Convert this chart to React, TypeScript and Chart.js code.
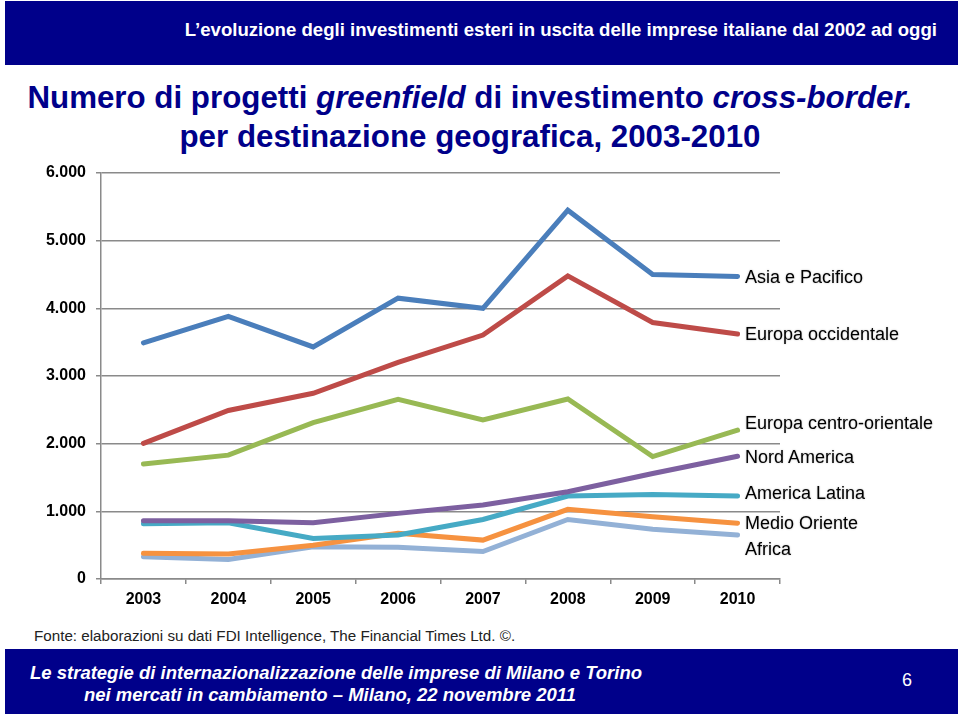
import React, { useEffect, useRef } from "react";
import { Chart, registerables } from "chart.js";

Chart.register(...registerables);

const years = ["2003", "2004", "2005", "2006", "2007", "2008", "2009", "2010"];
const asiaPacifico = [3490, 3880, 3430, 4150, 4000, 5450, 4500, 4470];
const europaOccidentale = [2005, 2490, 2745, 3200, 3605, 4480, 3790, 3620];
const europaCentroOrientale = [1700, 1830, 2310, 2655, 2350, 2660, 1810, 2200];
const nordAmerica = [860, 860, 830, 970, 1095, 1290, 1560, 1815];
const americaLatina = [815, 830, 600, 650, 880, 1225, 1250, 1225];
const medioOriente = [380, 370, 500, 675, 575, 1030, 920, 825];
const africa = [330, 290, 475, 470, 405, 880, 735, 650];
const yTicks = [0, 1000, 2000, 3000, 4000, 5000, 6000];

const seriesNames = [
  "Asia e Pacifico",
  "Europa occidentale",
  "Europa centro-orientale",
  "Nord America",
  "America Latina",
  "Medio Oriente",
  "Africa",
];
const seriesValues = [
  asiaPacifico,
  europaOccidentale,
  europaCentroOrientale,
  nordAmerica,
  americaLatina,
  medioOriente,
  africa,
];
const seriesColors = ["#4A7EBB", "#BE4B48", "#98B954", "#7D60A0", "#46AAC5", "#F69240", "#93B1D6"];
const labelTops = [277, 334, 423, 457, 493, 523, 549];

const FONT = "'Liberation Sans', Arial, sans-serif";
const NAVY = "#00008A";

function fmt(v: number) {
  if (v === 0) return "0";
  const s = String(v);
  return s.slice(0, s.length - 3) + "." + s.slice(s.length - 3);
}

export default function App() {
  const ref = useRef<HTMLCanvasElement | null>(null);

  useEffect(() => {
    if (!ref.current) return;
    const chart = new Chart(ref.current, {
      type: "line",
      data: {
        labels: years,
        datasets: seriesNames.map((name, i) => ({
          label: name,
          data: seriesValues[i],
          borderColor: seriesColors[i],
          backgroundColor: seriesColors[i],
          borderWidth: 5,
          pointRadius: 0,
          tension: 0,
          fill: false,
          borderCapStyle: "round" as const,
          borderJoinStyle: "miter" as const,
        })),
      },
      options: {
        responsive: false,
        animation: false,
        devicePixelRatio: 1,
        layout: { padding: { top: 23, right: 180, left: 0, bottom: 0 } },
        plugins: { legend: { display: false }, tooltip: { enabled: false }, title: { display: false } },
        scales: {
          x: {
            offset: true,
            grid: {
              display: true,
              drawOnChartArea: false,
              drawTicks: true,
              tickLength: 5,
              offset: true,
              color: "#8a8a8a",
              lineWidth: 1.5,
            },
            border: { display: true, color: "#8a8a8a", width: 1.5 },
            ticks: {
              color: "#000",
              font: { family: FONT, size: 16, weight: "bold" },
              padding: 6,
              maxRotation: 0,
            },
            afterFit: (s: any) => {
              s.height = 41;
            },
          },
          y: {
            min: 0,
            max: 6000,
            afterBuildTicks: (s: any) => {
              s.ticks = yTicks.map((v) => ({ value: v }));
            },
            grid: { color: "#8a8a8a", lineWidth: 1.5, drawTicks: true, tickLength: 5 },
            border: { display: true, color: "#8a8a8a", width: 1.5 },
            ticks: {
              color: "#000",
              font: { family: FONT, size: 16, weight: "bold" },
              padding: 10,
              callback: (v: any) => fmt(Number(v)),
            },
            afterFit: (s: any) => {
              s.width = 101;
            },
          },
        },
      },
    });
    return () => chart.destroy();
  }, []);

  return (
    <div
      style={{
        position: "absolute",
        left: 0,
        top: 0,
        width: 960,
        height: 716,
        background: "#fff",
        overflow: "hidden",
        fontFamily: FONT,
      }}
    >
      <div
        style={{
          position: "absolute",
          left: 5,
          top: 1,
          width: 953,
          height: 64,
          background: NAVY,
        }}
      />
      <div
        style={{
          position: "absolute",
          right: 23,
          top: 19,
          color: "#fff",
          fontWeight: "bold",
          fontSize: 18.6,
          lineHeight: "22px",
          whiteSpace: "nowrap",
        }}
      >
        L’evoluzione degli investimenti esteri in uscita delle imprese italiane dal 2002 ad oggi
      </div>

      <div
        style={{
          position: "absolute",
          left: 0,
          width: 940,
          top: 78,
          textAlign: "center",
          color: NAVY,
          fontWeight: "bold",
          fontSize: 31.3,
          lineHeight: "39px",
          whiteSpace: "nowrap",
        }}
      >
        <div>
          Numero di progetti <i>greenfield</i> di investimento <i>cross-border.</i>
        </div>
        <div>per destinazione geografica, 2003-2010</div>
      </div>

      <canvas
        ref={ref}
        width={960}
        height={470}
        style={{ position: "absolute", left: 0, top: 150, width: 960, height: 470 }}
      />

      {seriesNames.map((n, i) => (
        <div
          key={n}
          style={{
            position: "absolute",
            left: 745,
            top: labelTops[i] - 11,
            fontSize: 18,
            lineHeight: "22px",
            color: "#000",
            whiteSpace: "nowrap",
            textShadow: "0 0 2px #bbb",
          }}
        >
          {n}
        </div>
      ))}

      <div
        style={{
          position: "absolute",
          left: 34,
          top: 627,
          fontSize: 15.2,
          lineHeight: "18px",
          color: "#222",
          whiteSpace: "nowrap",
        }}
      >
        Fonte: elaborazioni su dati FDI Intelligence, The Financial Times Ltd. ©.
      </div>

      <div
        style={{
          position: "absolute",
          left: 5,
          top: 649,
          width: 953,
          height: 65,
          background: NAVY,
        }}
      />
      <div
        style={{
          position: "absolute",
          left: 30,
          width: 600,
          top: 662,
          textAlign: "center",
          color: "#fff",
          fontWeight: "bold",
          fontStyle: "italic",
          fontSize: 18.5,
          lineHeight: "22px",
          whiteSpace: "nowrap",
        }}
      >
        <div>Le strategie di internazionalizzazione delle imprese di Milano e Torino</div>
        <div>nei mercati in cambiamento – Milano, 22 novembre 2011</div>
      </div>
      <div
        style={{
          position: "absolute",
          left: 902,
          top: 669,
          color: "#fff",
          fontSize: 18,
          lineHeight: "22px",
        }}
      >
        6
      </div>
    </div>
  );
}
